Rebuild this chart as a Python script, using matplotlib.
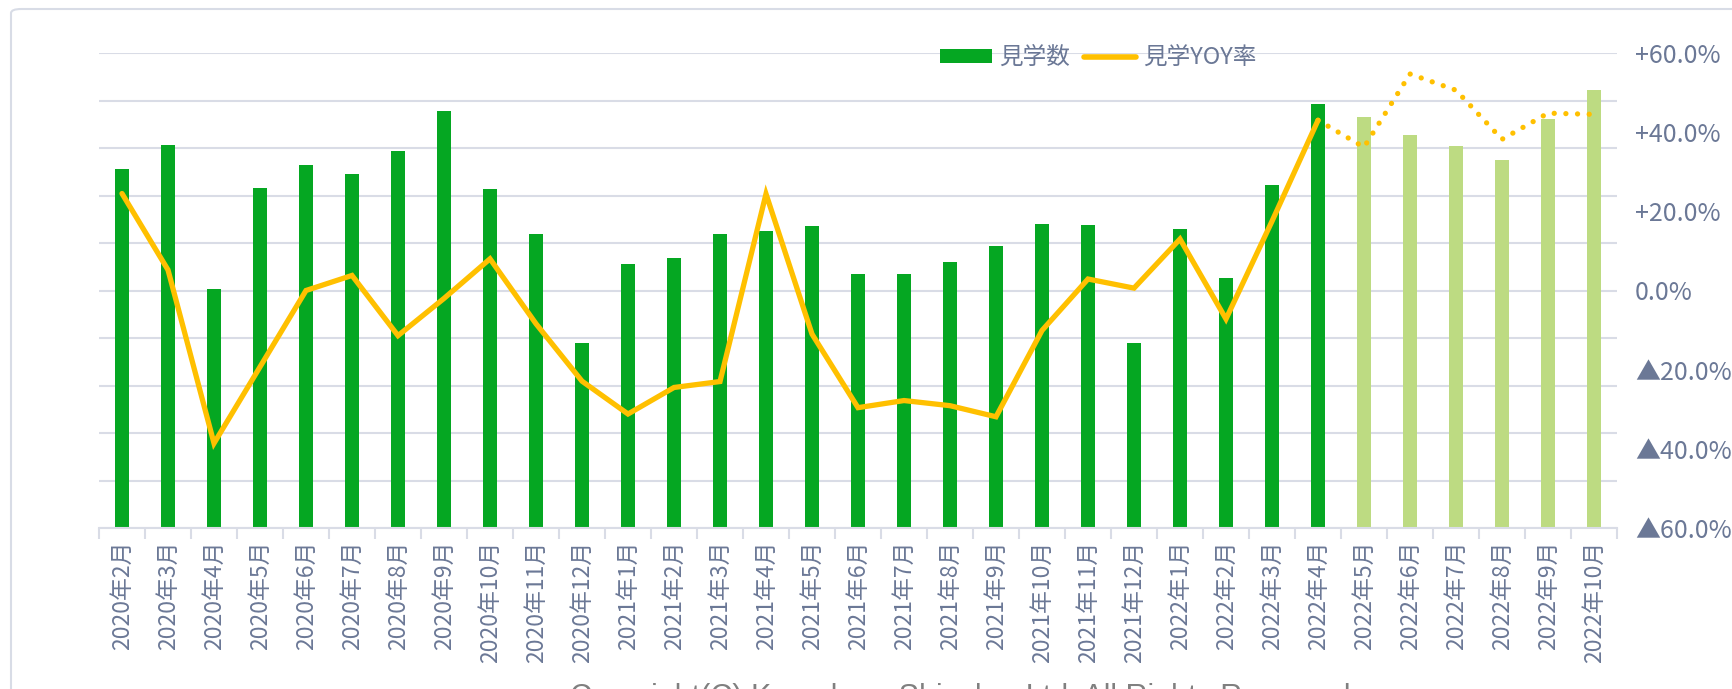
import matplotlib
matplotlib.use("Agg")
import matplotlib.pyplot as plt
from matplotlib.patches import FancyBboxPatch
from matplotlib.lines import Line2D
from matplotlib.patches import Patch
import numpy as np

plt.rcParams['font.family'] = ['Noto Sans CJK JP', 'DejaVu Sans']

# ---- data ----
months = ["2020年2月", "2020年3月", "2020年4月", "2020年5月", "2020年6月", "2020年7月",
          "2020年8月", "2020年9月", "2020年10月", "2020年11月", "2020年12月",
          "2021年1月", "2021年2月", "2021年3月", "2021年4月", "2021年5月", "2021年6月",
          "2021年7月", "2021年8月", "2021年9月", "2021年10月", "2021年11月", "2021年12月",
          "2022年1月", "2022年2月", "2022年3月", "2022年4月", "2022年5月", "2022年6月",
          "2022年7月", "2022年8月", "2022年9月", "2022年10月"]
visits = [75.6, 80.6, 50.4, 71.5, 76.4, 74.5, 79.4, 87.8, 71.4, 62.0, 38.9,
          55.5, 56.8, 61.9, 62.6, 63.5, 53.5, 53.5, 56.1, 59.4, 63.9, 63.8, 39.0,
          62.9, 52.6, 72.2, 89.3, 86.5, 82.7, 80.4, 77.5, 86.1, 92.2]
yoy_actual = [24.5, 5.2, -38.6, -19.3, 0.0, 3.8, -11.4, -2.0, 8.0, -8.4, -22.9,
              -31.2, -24.5, -23.0, 24.4, -11.0, -29.6, -27.8, -29.1, -31.9, -10.1, 2.9, 0.6,
              13.0, -7.2, 17.5, 43.0]
yoy_forecast = [43.0, 36.2, 54.7, 50.6, 38.2, 44.8, 44.5]
n_actual_bars = 27
right_ticks = [-60, -40, -20, 0, 20, 40, 60]

W, H = 1732, 689
fig = plt.figure(figsize=(W / 100, H / 100), dpi=100)

# outer frame
frame = FancyBboxPatch((11 / W, -0.1), 1.2, (H - 9) / H + 0.1,
                       boxstyle="round,pad=0,rounding_size=0.006",
                       transform=fig.transFigure, fill=False,
                       edgecolor='#d8dce6', linewidth=1.5, zorder=0)
fig.patches.append(frame)

ax = fig.add_axes([99 / W, (H - 528) / H, 1518 / W, 475 / H])
ax2 = ax.twinx()

x = np.arange(len(months))
dark_green = '#05a722'
light_green = '#bddb82'
gold = '#ffc000'
txt = '#6b7896'
grid = '#d9dce6'

colors = [dark_green if i < n_actual_bars else light_green for i in range(len(months))]
ax.bar(x, visits, width=0.31, color=colors, zorder=2)
ax.set_xlim(-0.5, len(months) - 0.5)
ax.set_ylim(0, 100)
ax.set_yticks(np.arange(0, 101, 10))
ax.yaxis.grid(True, color=grid, linewidth=1.5, zorder=0)
ax.set_axisbelow(True)
ax.tick_params(axis='y', left=False, labelleft=False)
for s in ['top', 'left', 'right']:
    ax.spines[s].set_visible(False)
ax2.spines[:].set_visible(False)
ax.spines['bottom'].set_color(grid)
ax.spines['bottom'].set_linewidth(1.5)

ax.set_xticks(x)
ax.set_xticklabels(months, rotation=90, color=txt, fontsize=16.5)
ax.tick_params(axis='x', which='major', length=0, pad=9)
ax.set_xticks(np.arange(-0.5, len(months), 1.0), minor=True)
ax.tick_params(axis='x', which='minor', length=8, width=1.5, color=grid)

# line on right axis
xa = x[:len(yoy_actual)]
xf = x[len(yoy_actual) - 1:len(yoy_actual) - 1 + len(yoy_forecast)]
ax2.plot(xa, yoy_actual, color=gold, linewidth=3.8, solid_joinstyle='miter',
         solid_capstyle='round', zorder=3)
ax2.plot(xf, yoy_forecast, color=gold, linewidth=3.8, linestyle=(0, (0.01, 2.2)),
         dash_capstyle='round', zorder=3)
ax2.set_ylim(-60, 60)
ax2.set_yticks(right_ticks)


def fmt(v):
    if v > 0:
        return f"+{v:.1f}%"
    if v < 0:
        return f"▲{abs(v):.1f}%"
    return f"{v:.1f}%"


ax2.set_yticklabels([fmt(v) for v in right_ticks], color=txt, fontsize=18)
ax2.tick_params(axis='y', length=0, pad=13)
ax2.set_zorder(ax.get_zorder() + 1)
ax2.patch.set_visible(False)

handles = [Patch(facecolor=dark_green, edgecolor='none'),
           Line2D([0], [0], color=gold, linewidth=4, solid_capstyle='round')]
leg = ax.legend(handles, ["見学数", "見学YOY率"], loc='center', bbox_to_anchor=(0.658, 0.99),
                ncol=2, frameon=False, fontsize=17, labelcolor=txt,
                handlelength=2.2, handleheight=0.55, handletextpad=0.3, columnspacing=0.6)

fig.text(960 / W, 1 - 683 / H, "Copyright(C) Kamakura Shinsho, Ltd. All Rights Reserved",
         ha='center', va='top', fontsize=22, color='#808080', family='Liberation Sans')

fig.savefig("out.png", dpi=100)
